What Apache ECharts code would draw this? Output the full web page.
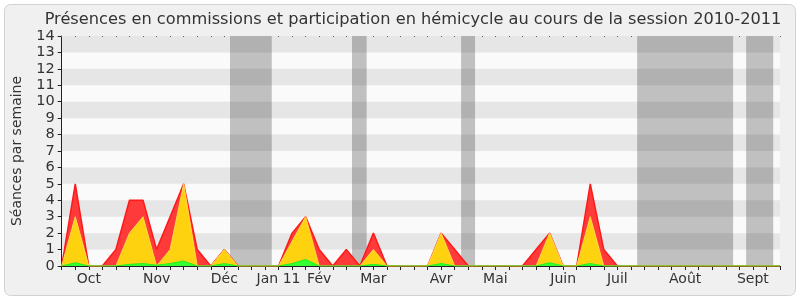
<!DOCTYPE html>
<html><head><meta charset="utf-8">
<script src="https://cdn.jsdelivr.net/npm/echarts@6/dist/echarts.min.js"></script>
<style>html,body{margin:0;padding:0;background:#fff}#c{width:800px;height:300px}</style>
</head><body><div id="c"></div>
<script>
// Weekly values (54 weeks, index 0 = first week of the session)
const hemicycle = [0,5,0,0,1,4,4,1,3,5,1,0,1,0,0,0,0,2,3,1,0,1,0,2,0,0,0,0,2,1,0,0,0,0,0,1,2,0,0,5,1,0,0,0,0,0,0,0,0,0,0,0,0,0];
const commissions = [0,3,0,0,0,2,3,0,1,5,0,0,1,0,0,0,0,1.5,3,0,0,0,0,1,0,0,0,0,2,0,0,0,0,0,0,0,2,0,0,3,0,0,0,0,0,0,0,0,0,0,0,0,0,0];
const interventions = [0,0.2,0,0,0,0.1,0.15,0.05,0.15,0.3,0,0,0.15,0,0,0,0,0.15,0.4,0,0,0,0,0.1,0,0,0,0,0.15,0,0,0,0,0,0,0,0.2,0,0,0.15,0,0,0,0,0,0,0,0,0,0,0,0,0,0];
const monthTicks = [2,7,12,16,19,23,28,32,37,41,46,51];
const monthLabels = ['Oct','Nov','Déc','Jan 11','Fév','Mar','Avr','Mai','Juin','Juil','Août','Sept'];
const holidays = [[12.42,15.5],[21.42,22.5],[29.47,30.5],[42.46,49.54],[50.5,52.5]];
const yTicks = [0,1,2,3,4,5,6,7,8,9,10,11,12,13,14];

const FONT = 'DejaVu Sans';
const NW = hemicycle.length - 1;
const pts = arr => arr.map((v,i)=>[i,v]);
const stripes = [];
for (let k=1;k<14;k+=2) stripes.push([{xAxis:0,yAxis:k},{xAxis:NW,yAxis:k+1}]);

const chart = echarts.init(document.getElementById('c'));
chart.setOption({
  animation:false,
  backgroundColor:'transparent',
  graphic:[{type:'rect',z:-10,shape:{x:4.5,y:4.5,width:791,height:291,r:6},style:{fill:'#f0f0f0',stroke:'#d2d2d2',lineWidth:1}}],
  title:{text:'Présences en commissions et participation en hémicycle au cours de la session 2010-2011',
    left:408,textAlign:'center',top:7,textStyle:{fontFamily:FONT,fontSize:16.2,fontWeight:'normal',color:'#333'}},
  grid:{left:61.7,right:20,top:36,bottom:34,show:true,backgroundColor:'#fafafa',borderWidth:0},
  xAxis:[{type:'value',min:0,max:NW,interval:1,
    axisLine:{show:true,lineStyle:{color:'#222',width:1}},
    axisTick:{show:true,length:4,lineStyle:{color:'#222'}},
    splitLine:{show:false},
    axisLabel:{fontFamily:FONT,fontSize:14,color:'#333',margin:6,showMinLabel:true,showMaxLabel:true,
      formatter:v=>{const k=monthTicks.indexOf(Math.round(v));return k>=0?monthLabels[k]:'';}}},
   {type:'value',position:'top',min:0,max:NW,interval:1,
    axisLine:{show:false},axisTick:{show:true,inside:true,length:1,lineStyle:{color:'#666'}},
    axisLabel:{show:false},splitLine:{show:false}}],
  yAxis:{type:'value',min:0,max:14,interval:1,
    name:'Séances par semaine',nameLocation:'middle',nameGap:37,
    nameTextStyle:{fontFamily:FONT,fontSize:14,color:'#333'},
    axisLine:{show:true,lineStyle:{color:'#222'}},
    axisTick:{show:true,length:4,lineStyle:{color:'#222'}},
    splitLine:{show:false},
    axisLabel:{fontFamily:FONT,fontSize:14.5,color:'#333',margin:7,formatter:v=>yTicks.indexOf(v)>=0?String(v):''}},
  series:[
    {type:'line',z:1,data:[[0,0]],showSymbol:false,lineStyle:{width:0},silent:true,
     markArea:{silent:true,itemStyle:{color:'#c0c0c0'},data:holidays.map(h=>[{xAxis:h[0],yAxis:0},{xAxis:h[1],yAxis:14}])}},
    {type:'line',z:2,data:[[0,0]],showSymbol:false,lineStyle:{width:0},silent:true,
     markArea:{silent:true,itemStyle:{color:'rgba(0,0,0,0.08)'},data:stripes}},
    {type:'line',z:3,data:pts(hemicycle),showSymbol:false,
     lineStyle:{color:'#ff1a1a',width:1.5},areaStyle:{color:'#ff3a3a',opacity:1}},
    {type:'line',z:4,data:pts(commissions),showSymbol:false,
     lineStyle:{color:'#ffd84a',width:1},areaStyle:{color:'#ffd20f',opacity:1}},
    {type:'line',z:5,data:pts(interventions),showSymbol:false,
     lineStyle:{color:'#22ee22',width:1},areaStyle:{color:'#33ff33',opacity:1}}
  ]
});
</script></body></html>
